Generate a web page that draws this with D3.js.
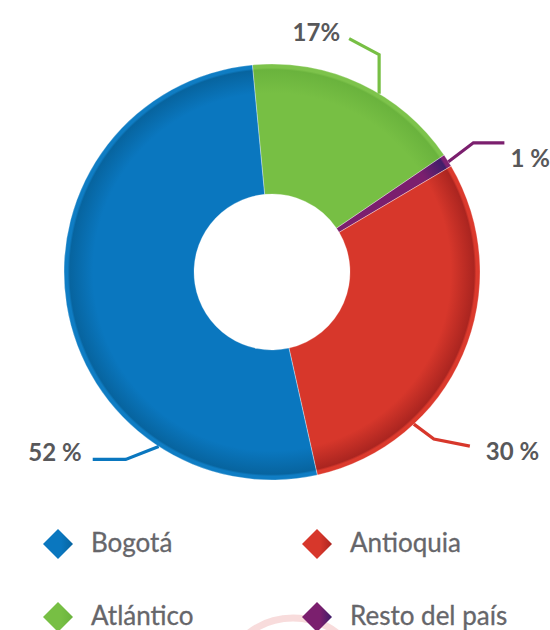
<!DOCTYPE html>
<html>
<head>
<meta charset="utf-8">
<script src="https://cdn.jsdelivr.net/npm/d3@7"></script>
<style>
  html, body { margin: 0; padding: 0; background: #ffffff; }
  svg { display: block; }
</style>
</head>
<body>
<svg id="chart" width="550" height="630"></svg>
<script>
// ---- data (clockwise from the top of the ring) ----
const categories = ["Atlántico", "Resto del país", "Antioquia", "Bogotá"];
const values = [17, 1, 30, 52];
const valueLabels = ["17%", "1 %", "30 %", "52 %"];
const legendOrder = ["Bogotá", "Antioquia", "Atlántico", "Resto del país"];

// ---- styles ----
const palette = {
  "Bogotá":        { base: "#0a77bf", dark: "#07649f", rim: "#0f7dc4" },
  "Antioquia":     { base: "#d7372b", dark: "#ab2520", rim: "#dc3a2d" },
  "Atlántico":     { base: "#77bf44", dark: "#6ab33d", rim: "#7dc34b" },
  "Resto del país":{ base: "#7b1f6e", dark: "#3f1e6a", rim: "#7e2271" }
};

// leader layout: anchor angle (deg, clockwise from top) on the outer edge,
// then elbow offset and end offset, then text offset/anchor
const leaderLayout = {
  "Atlántico":      { ang: 31,  e1: [0, -39],  e2: [-30, -16], t: [-9, 2],   anchor: "end" },
  "Resto del país": { ang: 58,  e1: [25, -19], e2: [31, 0],    t: [6, 24],   anchor: "start" },
  "Antioquia":      { ang: 137, e1: [20, 15],  e2: [36, 7],    t: [16, 14],  anchor: "start" },
  "Bogotá":         { ang: 213, e1: [-33, 13], e2: [-33, 0],   t: [-11, 2],  anchor: "end" }
};

const data = categories.map((c, i) => ({ name: c, value: values[i], label: valueLabels[i] }));

const svg = d3.select("#chart");
const cx = 272, cy = 272, R = 208, r0 = 78;
const defs = svg.append("defs");

// faint decorative arc at the bottom
svg.append("circle")
  .attr("cx", 293).attr("cy", 690).attr("r", 72)
  .attr("fill", "none").attr("stroke", "#f6d3d3").attr("stroke-width", 7).attr("opacity", 0.8);

// radial gradients per slice (in the ring's local space, centred at 0,0)
categories.forEach((c, i) => {
  const p = palette[c];
  const g = defs.append("radialGradient")
    .attr("id", "rg" + i)
    .attr("gradientUnits", "userSpaceOnUse")
    .attr("cx", 0).attr("cy", 0).attr("r", R);
  [[0, p.base], [r0 / R, p.base], [0.86, p.base], [0.972, p.dark], [0.982, p.rim], [1, p.rim]]
    .forEach(([o, col]) => g.append("stop").attr("offset", o).attr("stop-color", col));
  const lg = defs.append("linearGradient").attr("id", "lg" + i)
    .attr("x1", 0).attr("y1", 0).attr("x2", 1).attr("y2", 0);
  lg.append("stop").attr("offset", 0).attr("stop-color", p.base);
  lg.append("stop").attr("offset", 0.6).attr("stop-color", p.base);
  lg.append("stop").attr("offset", 1).attr("stop-color", p.dark);
});

const startA = -5.4 * Math.PI / 180;
const pie = d3.pie().sort(null).value(d => d.value)
  .startAngle(startA).endAngle(startA + 2 * Math.PI);
const arc = d3.arc().innerRadius(r0).outerRadius(R);

const g = svg.append("g").attr("transform", `translate(${cx},${cy})`);
g.selectAll("path.slice")
  .data(pie(data))
  .join("path")
  .attr("class", "slice")
  .attr("d", arc)
  .attr("fill", (d, i) => `url(#rg${i})`);

// thin light separators along slice edges
g.selectAll("path.sep")
  .data(pie(data))
  .join("path")
  .attr("class", "sep")
  .attr("d", arc)
  .attr("fill", "none")
  .attr("stroke", "#ffffff")
  .attr("stroke-opacity", 0.25)
  .attr("stroke-width", 1);

// leader lines and value labels
const polar = (deg, rad) => {
  const a = deg * Math.PI / 180;
  return [cx + rad * Math.sin(a), cy - rad * Math.cos(a)];
};
data.forEach((d, i) => {
  const L = leaderLayout[d.name];
  const p0 = polar(L.ang, R);
  const p1 = [p0[0] + L.e1[0], p0[1] + L.e1[1]];
  const p2 = [p1[0] + L.e2[0], p1[1] + L.e2[1]];
  svg.append("path")
    .attr("d", d3.line()([p0, p1, p2]))
    .attr("fill", "none")
    .attr("stroke", palette[d.name].base)
    .attr("stroke-width", 3.2);
  svg.append("text")
    .attr("x", p2[0] + L.t[0]).attr("y", p2[1] + L.t[1])
    .attr("text-anchor", L.anchor)
    .attr("font-family", "Lato, 'Open Sans', sans-serif")
    .attr("font-weight", 700)
    .attr("font-size", 24)
    .attr("fill", "#58585a")
    .text(d.label);
});

// legend
const legX = d3.scalePoint().domain([0, 1]).range([58, 317]);
const legY = d3.scalePoint().domain([0, 1]).range([544, 617]);
legendOrder.forEach((name, k) => {
  const i = categories.indexOf(name);
  const col = k % 2, row = Math.floor(k / 2);
  const x = legX(col), y = legY(row);
  const s = 15;
  svg.append("path")
    .attr("d", `M${x - s},${y} L${x},${y - s} L${x + s},${y} L${x},${y + s} Z`)
    .attr("fill", `url(#lg${i})`);
  svg.append("text")
    .attr("x", x + 33).attr("y", y + 8)
    .attr("font-family", "Lato, 'Open Sans', sans-serif")
    .attr("font-size", 26)
    .attr("fill", "#66666a")
    .attr("stroke", "#66666a")
    .attr("stroke-width", 0.3)
    .text(name);
});
</script>
</body>
</html>
